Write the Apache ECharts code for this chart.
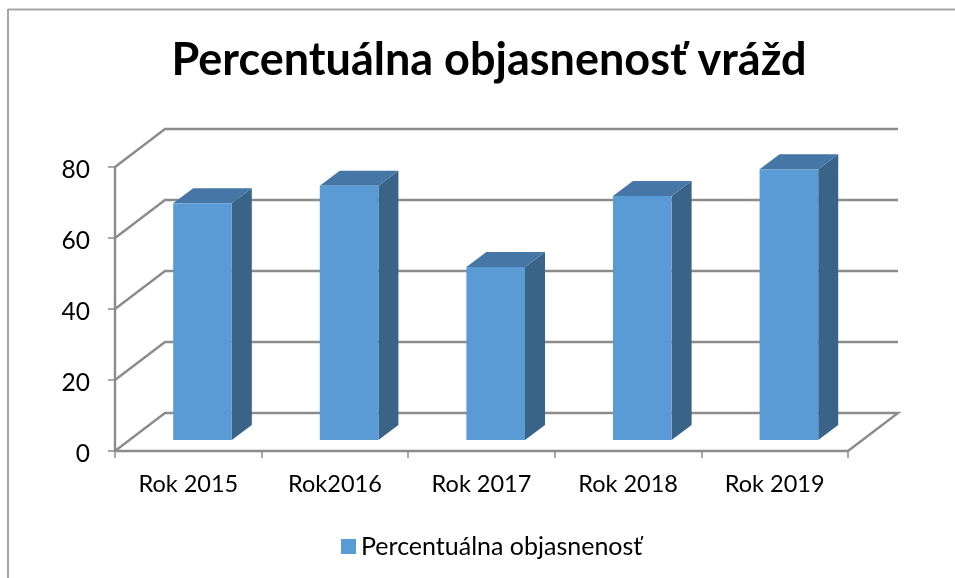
<!DOCTYPE html>
<html>
<head>
<meta charset="utf-8">
<style>html,body{margin:0;padding:0;background:#fff}#c{width:955px;height:578px}</style>
<script src="https://cdn.jsdelivr.net/npm/echarts@6/dist/echarts.min.js"></script>
</head>
<body>
<div id="c"></div>
<script>
const categories = ['Rok 2015', 'Rok2016', 'Rok 2017', 'Rok 2018', 'Rok 2019'];
const values = [66.7, 71.6, 48.7, 68.7, 76.3];
const wallTicks = [0, 20, 40, 60, 80];
const seriesName = 'Percentuálna objasnenosť';
const titleText = 'Percentuálna objasnenosť vrážd';

const FONT = 'Lato';
const GREY = '#8c8c8c';
// 3D projection of the depth axis, in pixels
const WALL = [50, -38];
const BAR_SHIFT = [14.2, -11];
const BAR_DEPTH = [20, -15];
const BAR_RATIO = 0.4;

function renderWall(params, api) {
  const v = api.value(0);
  const a = api.coord([0, v]);
  a[0] = params.coordSys.x;
  const endX = params.coordSys.x + params.coordSys.width;
  const b = [a[0] + WALL[0], a[1] + WALL[1]];
  const c = [endX + WALL[0], a[1] + WALL[1]];
  const pts = [a, b, c];
  if (v === 0) pts.push([endX, a[1]]);
  return {
    type: 'polyline',
    shape: { points: pts },
    style: { stroke: GREY, lineWidth: 2.4, fill: 'none' },
    silent: true
  };
}

function renderBar(params, api) {
  const idx = api.value(0);
  const top = api.coord([idx, api.value(1)]);
  const base = api.coord([idx, 0]);
  const w = api.size([1, 0])[0] * BAR_RATIO;
  const l = top[0] - w / 2 + BAR_SHIFT[0];
  const r = l + w;
  const t = top[1] + BAR_SHIFT[1];
  const bt = base[1] + BAR_SHIFT[1];
  const dx = BAR_DEPTH[0], dy = BAR_DEPTH[1];
  return {
    type: 'group',
    children: [
      { type: 'polygon', shape: { points: [[r, t], [r + dx, t + dy], [r + dx, bt + dy], [r, bt]] },
        style: { fill: '#396487' } },
      { type: 'polygon', shape: { points: [[l, t], [l + dx, t + dy], [r + dx, t + dy], [r, t]] },
        style: { fill: '#4576a5' } },
      { type: 'rect', shape: { x: l, y: t, width: w, height: bt - t },
        style: { fill: '#5b9bd5' } }
    ]
  };
}

const chart = echarts.init(document.getElementById('c'), null, { renderer: 'canvas' });
chart.setOption({
  animation: false,
  backgroundColor: '#ffffff',
  title: {
    text: titleText,
    left: 484, top: 33, textAlign: 'center',
    textStyle: { fontFamily: FONT, fontSize: 45, fontWeight: 'bold', color: '#000000' }
  },
  legend: {
    data: [seriesName],
    left: 336, top: 529,
    icon: 'rect', itemWidth: 15, itemHeight: 15, itemGap: 10,
    textStyle: { fontFamily: FONT, fontSize: 25, color: '#000000' }
  },
  grid: { left: 115, right: 107, top: 167, bottom: 127 },
  graphic: [
    { type: 'line', silent: true, z: 0, shape: { x1: 8, y1: 9.5, x2: 955, y2: 9.5 }, style: { stroke: '#a6a6a6', lineWidth: 2 } },
    { type: 'line', silent: true, z: 0, shape: { x1: 8, y1: 9, x2: 8, y2: 578 }, style: { stroke: '#a6a6a6', lineWidth: 2 } }
  ],
  xAxis: {
    type: 'category',
    data: categories,
    axisLine: { lineStyle: { color: GREY, width: 2.4 } },
    axisTick: { show: true, alignWithLabel: false, length: 7, lineStyle: { color: GREY, width: 1.5 } },
    axisLabel: { fontFamily: FONT, fontSize: 23.5, color: '#000000', margin: 21 },
    splitLine: { show: false }
  },
  yAxis: {
    type: 'value',
    min: 0, max: 80, interval: 20,
    axisLine: { show: true, lineStyle: { color: GREY, width: 2.4 } },
    axisTick: { show: true, length: 7, lineStyle: { color: GREY, width: 1.5 } },
    axisLabel: { fontFamily: FONT, fontSize: 24.5, color: '#000000', margin: 25, verticalAlign: 'top', lineHeight: 6 },
    splitLine: { show: false }
  },
  series: [
    {
      name: 'wall', type: 'custom', renderItem: renderWall, silent: true, clip: false,
      coordinateSystem: 'cartesian2d', z: 1,
      encode: { y: 0 }, data: wallTicks.map(v => [v])
    },
    {
      name: seriesName, type: 'custom', renderItem: renderBar, clip: false,
      coordinateSystem: 'cartesian2d', z: 3,
      itemStyle: { color: '#5b9bd5' },
      encode: { x: 0, y: 1 }, data: values.map((v, i) => [i, v])
    }
  ]
});
</script>
</body>
</html>
